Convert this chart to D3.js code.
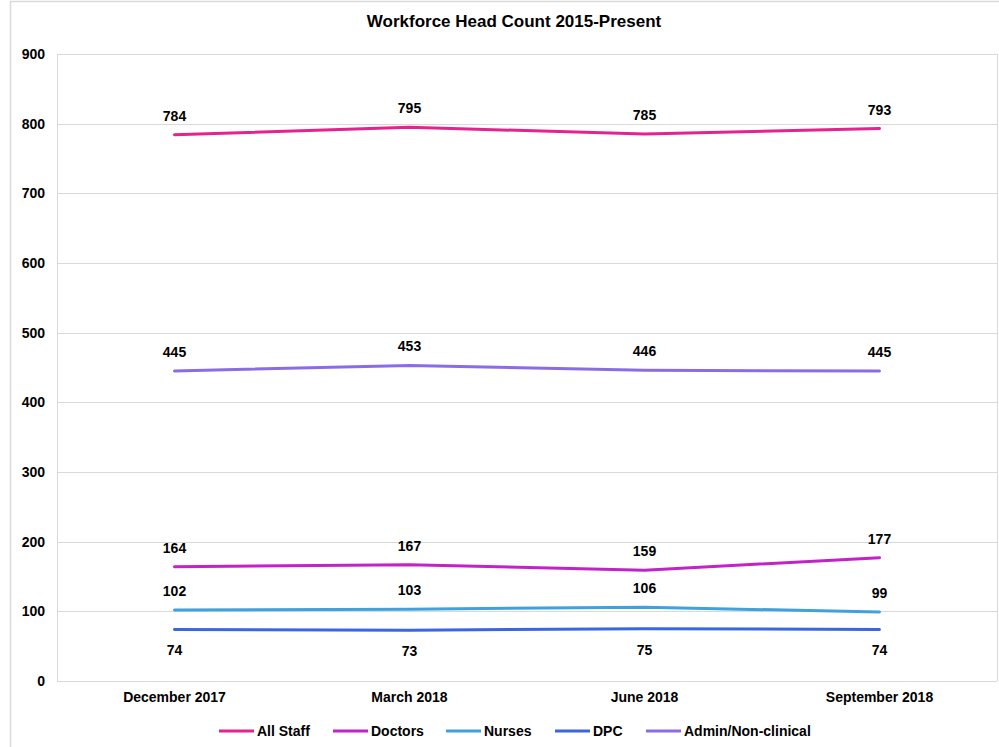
<!DOCTYPE html>
<html>
<head>
<meta charset="utf-8">
<script src="https://cdn.jsdelivr.net/npm/d3@7"></script>
<style>
  html, body { margin: 0; padding: 0; background: #fff; }
  svg { display: block; font-family: "Liberation Sans", Arial, sans-serif; }
</style>
</head>
<body>
<svg id="chart" width="999" height="747"></svg>
<script>
// Quarterly head counts by staff group
const categories = ["December 2017", "March 2018", "June 2018", "September 2018"];
const seriesNames = ["All Staff", "Doctors", "Nurses", "DPC", "Admin/Non-clinical"];
const allStaff = [784, 795, 785, 793];
const doctors = [164, 167, 159, 177];
const nurses = [102, 103, 106, 99];
const dpc = [74, 73, 75, 74];
const admin = [445, 453, 446, 445];
const yTicks = [0, 100, 200, 300, 400, 500, 600, 700, 800, 900];
const colors = ["#e5228e", "#c322c9", "#3fa2dc", "#3a67df", "#8c6ce4"];
const labelBelow = [false, false, false, true, false];

const series = [allStaff, doctors, nurses, dpc, admin].map((values, i) => ({
  name: seriesNames[i], values, color: colors[i], below: labelBelow[i]
}));

const svg = d3.select("#chart");
const plot = { left: 57, right: 997, top: 54, bottom: 681 };
const FONT = 14;

// outer frame
svg.append("rect")
  .attr("x", 10.5).attr("y", 1.5)
  .attr("width", 1000).attr("height", 760)
  .attr("fill", "none").attr("stroke", "#d9d9d9").attr("stroke-width", 1.5);

const x = d3.scaleBand().domain(categories).range([plot.left, plot.right]);
const y = d3.scaleLinear().domain([0, 900]).range([plot.bottom, plot.top]);

// gridlines
svg.append("g").selectAll("line").data(yTicks).join("line")
  .attr("x1", plot.left).attr("x2", plot.right)
  .attr("y1", d => Math.round(y(d)) + 0.5).attr("y2", d => Math.round(y(d)) + 0.5)
  .attr("stroke", "#d9d9d9").attr("stroke-width", 1);

// plot area side edges
[plot.left, plot.right].forEach(px => {
  svg.append("line")
    .attr("x1", px + 0.5).attr("x2", px + 0.5)
    .attr("y1", plot.top).attr("y2", plot.bottom)
    .attr("stroke", "#d9d9d9");
});

// y axis labels
const yAxis = d3.axisLeft(y).tickValues(yTicks).tickSize(0).tickPadding(12);
const yg = svg.append("g").attr("transform", `translate(${plot.left},0)`).call(yAxis);
yg.select(".domain").remove();
yg.selectAll("text")
  .attr("font-family", "Liberation Sans, Arial, sans-serif")
  .attr("font-size", FONT).attr("font-weight", "bold").attr("fill", "#000");

// x axis labels
const xAxis = d3.axisBottom(x).tickSize(0).tickPadding(11);
const xg = svg.append("g").attr("transform", `translate(0,${plot.bottom})`).call(xAxis);
xg.select(".domain").remove();
xg.selectAll("text")
  .attr("font-family", "Liberation Sans, Arial, sans-serif")
  .attr("font-size", FONT).attr("font-weight", "bold").attr("fill", "#000");

const cx = c => x(c) + x.bandwidth() / 2;
const line = d3.line().x((d, i) => cx(categories[i])).y(d => y(d));

// series lines
svg.append("g").selectAll("path").data(series).join("path")
  .attr("d", s => line(s.values))
  .attr("fill", "none")
  .attr("stroke", s => s.color)
  .attr("stroke-width", 3)
  .attr("stroke-linecap", "round");

// data labels
series.forEach(s => {
  svg.append("g").selectAll("text").data(s.values).join("text")
    .attr("x", (d, i) => cx(categories[i]))
    .attr("y", d => s.below ? y(d) + 26 : y(d) - 14)
    .attr("text-anchor", "middle")
    .attr("font-size", FONT).attr("font-weight", "bold").attr("fill", "#000")
    .text(d => d);
});

// title
svg.append("text")
  .attr("x", 514).attr("y", 27)
  .attr("text-anchor", "middle")
  .attr("font-size", 17).attr("font-weight", "bold").attr("fill", "#000")
  .text("Workforce Head Count 2015-Present");

// legend
const legendX = [219, 333, 446, 555, 646];
const legend = svg.append("g").attr("transform", "translate(0,731)");
series.forEach((s, i) => {
  legend.append("line")
    .attr("x1", legendX[i]).attr("x2", legendX[i] + 35)
    .attr("y1", 0).attr("y2", 0)
    .attr("stroke", s.color).attr("stroke-width", 3);
  legend.append("text")
    .attr("x", legendX[i] + 38).attr("y", 5)
    .attr("font-size", FONT).attr("font-weight", "bold").attr("fill", "#000")
    .text(s.name);
});
</script>
</body>
</html>
